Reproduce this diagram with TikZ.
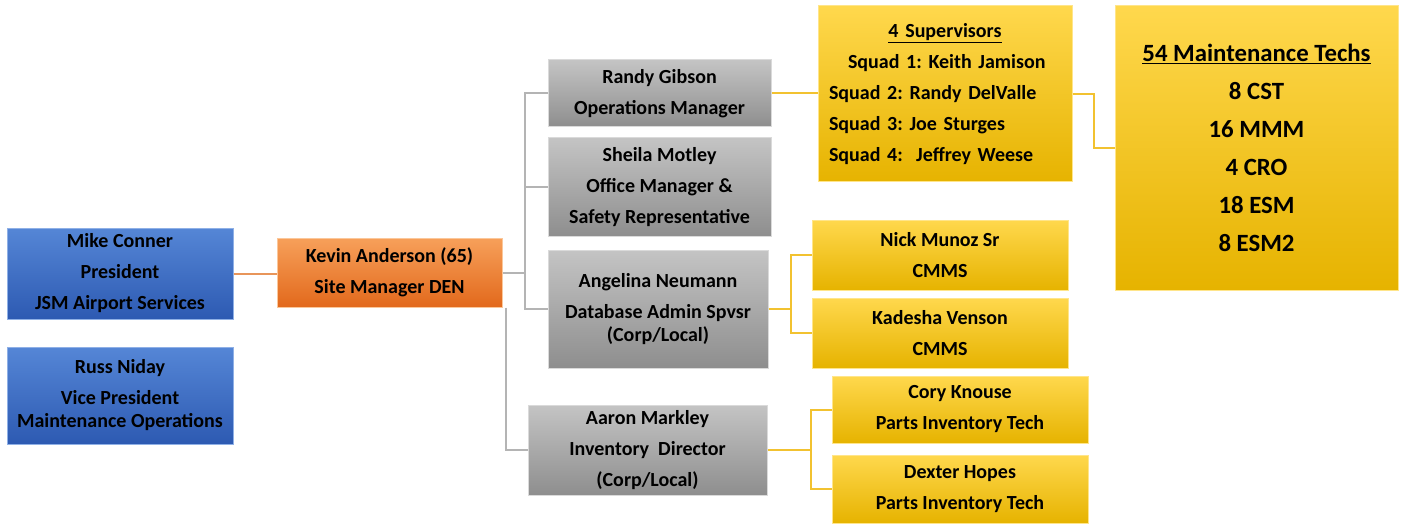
\documentclass[tikz,border=0pt]{standalone}
\usepackage{fontspec}
\setmainfont{Carlito}
\definecolor{blueT}{HTML}{5586D6}
\definecolor{blueB}{HTML}{2D5AB2}
\definecolor{blueE}{HTML}{8FB0E6}
\definecolor{orT}{HTML}{F7A05A}
\definecolor{orB}{HTML}{E2691C}
\definecolor{orE}{HTML}{FBC79A}
\definecolor{grT}{HTML}{C4C4C4}
\definecolor{grB}{HTML}{8E8E8E}
\definecolor{grE}{HTML}{DADADA}
\definecolor{yeT}{HTML}{FFD84D}
\definecolor{yeB}{HTML}{E6B300}
\definecolor{yeE}{HTML}{FFE58A}
\definecolor{lineOr}{HTML}{E8955A}
\definecolor{lineGr}{HTML}{B4B4B4}
\definecolor{lineYe}{HTML}{F2C230}
\tikzset{
  box/.style={rectangle, inner sep=0pt, align=center, text=black, line width=1pt,
    font=\bfseries\fontsize{20}{31}\selectfont\frenchspacing},
  bluebox/.style={box, top color=blueT, bottom color=blueB, draw=blueE},
  orbox/.style={box, top color=orT, bottom color=orB, draw=orE},
  grbox/.style={box, top color=grT, bottom color=grB, draw=grE},
  yebox/.style={box, top color=yeT, bottom color=yeB, draw=yeE},
  orline/.style={draw=lineOr, line width=2pt},
  grline/.style={draw=lineGr, line width=2pt},
  yeline/.style={draw=lineYe, line width=2pt},
}
\begin{document}
\begin{tikzpicture}[x=1pt,y=-1pt]
\useasboundingbox (0,0) rectangle (1401,524);
% nodes
\node[bluebox, minimum width=226, minimum height=91] (mike) at (120,273.5)
  {Mike Conner\\President\\JSM Airport Services};
\node[bluebox, minimum width=226, minimum height=97] (russ) at (120,395.5)
  {Russ Niday\\Vice President\\[-8pt]Maintenance Operations};
\node[orbox, minimum width=225, minimum height=69] (kevin) at (389.5,272.5)
  {Kevin Anderson (65)\\Site Manager DEN};
\node[grbox, minimum width=223, minimum height=67] (randy) at (659.5,93.5)
  {Randy Gibson\\Operations Manager};
\node[grbox, minimum width=223, minimum height=98] (sheila) at (659.5,187)
  {Sheila Motley\\Office Manager \&\\Safety Representative};
\node[grbox, minimum width=220, minimum height=118] (angelina) at (658,309)
  {Angelina Neumann\\Database Admin Spvsr\\[-8pt](Corp/Local)};
\node[grbox, minimum width=239, minimum height=90] (aaron) at (647.5,450)
  {Aaron Markley\\Inventory\ \ Director\\(Corp/Local)};
\node[yebox, minimum width=254, minimum height=176, text width=232, align=left] (sup) at (945,94)
  {\makebox[232pt][c]{\underline{4 Supervisors}}\\
   \hspace*{19pt}Squad 1: Keith Jamison\\
   Squad 2: Randy DelValle\\
   Squad 3: Joe Sturges\\
   Squad 4:\ \ Jeffrey Weese};
\node[yebox, minimum width=283, minimum height=284, font=\bfseries\fontsize{24.8}{38}\selectfont] (maint) at (1256.5,148)
  {\underline{54 Maintenance Techs}\\8 CST\\16 MMM\\4 CRO\\18 ESM\\8 ESM2};
\node[yebox, minimum width=256, minimum height=70] (nick) at (940,255)
  {Nick Munoz Sr\\CMMS};
\node[yebox, minimum width=256, minimum height=70] (kadesha) at (940,333)
  {Kadesha Venson\\CMMS};
\node[yebox, minimum width=256, minimum height=67] (cory) at (960,409.5)
  {Cory Knouse\\Parts Inventory Tech};
\node[yebox, minimum width=256, minimum height=68] (dexter) at (960,489)
  {Dexter Hopes\\Parts Inventory Tech};
% connectors
\draw[orline] (mike.east) -- (mike.east -| kevin.west);
\coordinate (trunk) at ([xshift=22pt]kevin.east);
\draw[grline] (kevin.east) -- (trunk);
\draw[grline] (trunk) |- (randy.west);
\draw[grline] (trunk) |- (sheila.west);
\draw[grline] (trunk) |- (angelina.west);
\draw[grline] ([xshift=3pt]kevin.south east) |- (aaron.west);
\draw[yeline] (randy.east) -- (randy.east -| sup.west);
\coordinate (supj) at ([xshift=21pt]sup.east);
\draw[yeline] (sup.east) -- (supj) |- (maint.west);
\coordinate (angj) at ([xshift=22pt]angelina.east);
\draw[yeline] (angelina.east) -- (angj);
\draw[yeline] (angj) |- (nick.west);
\draw[yeline] (angj) |- (kadesha.west);
\coordinate (aarj) at ([xshift=43pt]aaron.east);
\draw[yeline] (aaron.east) -- (aarj);
\draw[yeline] (aarj) |- (cory.west);
\draw[yeline] (aarj) |- (dexter.west);
\end{tikzpicture}
\end{document}
